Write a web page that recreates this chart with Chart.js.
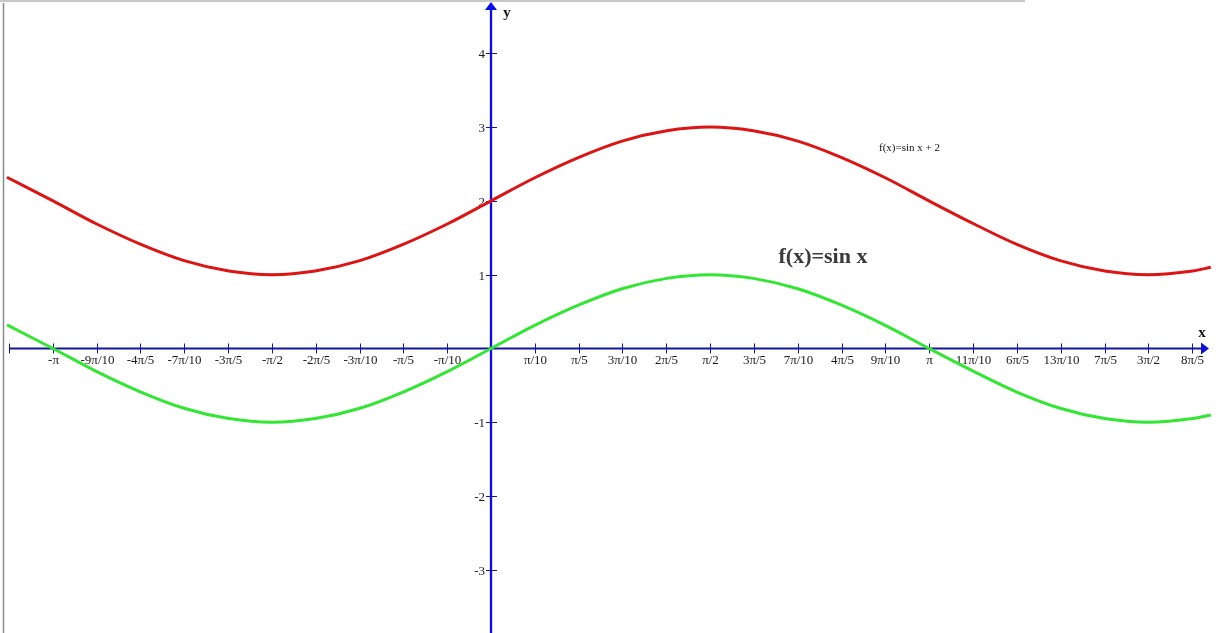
<!DOCTYPE html>
<html>
<head>
<meta charset="utf-8">
<script src="https://cdn.jsdelivr.net/npm/chart.js@4"></script>
<style>
  html, body { margin: 0; padding: 0; background: #fff; }
  #wrap { width: 1219px; height: 633px; }
</style>
</head>
<body>
<div id="wrap"><canvas id="chart1" width="1219" height="633"></canvas></div>
<script>
const xValues = [-3.47, -3.14, -2.83, -2.51, -2.20, -1.88, -1.57, -1.26, -0.94, -0.63, -0.31, 0,
  0.31, 0.63, 0.94, 1.26, 1.57, 1.88, 2.20, 2.51, 2.83, 3.14, 3.46, 3.77, 4.08, 4.40, 4.71, 5.03, 5.16];
// f(x)=sin x (green)
const sinValues = [0.32, 0, -0.31, -0.59, -0.81, -0.95, -1, -0.95, -0.81, -0.59, -0.31, 0,
  0.31, 0.59, 0.81, 0.95, 1, 0.95, 0.81, 0.59, 0.31, 0, -0.31, -0.59, -0.81, -0.95, -1, -0.95, -0.90];
// f(x)=sin x + 2 (red)
const sinPlus2Values = [2.32, 2, 1.69, 1.41, 1.19, 1.05, 1, 1.05, 1.19, 1.41, 1.69, 2,
  2.31, 2.59, 2.81, 2.95, 3, 2.95, 2.81, 2.59, 2.31, 2, 1.69, 1.41, 1.19, 1.05, 1, 1.05, 1.10];

// x ticks, in steps of pi/10
const xTickSteps = [-11, -10, -9, -8, -7, -6, -5, -4, -3, -2, -1, 1, 2, 3, 4, 5, 6, 7, 8, 9, 10, 11, 12, 13, 14, 15, 16];
const xTickLabels = ["", "-\u03c0", "-9\u03c0/10", "-4\u03c0/5", "-7\u03c0/10", "-3\u03c0/5", "-\u03c0/2", "-2\u03c0/5", "-3\u03c0/10", "-\u03c0/5", "-\u03c0/10",
  "\u03c0/10", "\u03c0/5", "3\u03c0/10", "2\u03c0/5", "\u03c0/2", "3\u03c0/5", "7\u03c0/10", "4\u03c0/5", "9\u03c0/10", "\u03c0",
  "11\u03c0/10", "6\u03c0/5", "13\u03c0/10", "7\u03c0/5", "3\u03c0/2", "8\u03c0/5"];
const yTickValues = [4, 3, 2, 1, -1, -2, -3];
const yTickLabels = ["4", "3", "2", "1", "-1", "-2", "-3"];

const toPoints = (ys) => xValues.map((x, i) => ({ x: x, y: ys[i] }));

const axesPlugin = {
  id: "mathAxes",
  beforeDatasetsDraw(chart) {
    const c = chart.ctx;
    const sx = chart.scales.x, sy = chart.scales.y;
    const ox = sx.getPixelForValue(0), oy = sy.getPixelForValue(0);
    c.save();
    // window frame
    c.strokeStyle = "#b4b4b4";
    c.lineWidth = 1.5;
    c.beginPath(); c.moveTo(0, 1); c.lineTo(1025, 1); c.stroke();
    c.strokeStyle = "#8a8a8a";
    c.lineWidth = 1.5;
    c.beginPath(); c.moveTo(3.5, 3); c.lineTo(3.5, 633); c.stroke();

    // x axis
    const xLeft = sx.getPixelForValue(-11 * Math.PI / 10);
    const xTip = 1209;
    c.strokeStyle = "#14149e";
    c.lineWidth = 2;
    c.beginPath(); c.moveTo(xLeft, oy); c.lineTo(xTip - 6, oy); c.stroke();
    c.fillStyle = "#1010d0";
    c.beginPath(); c.moveTo(xTip, oy); c.lineTo(xTip - 8, oy - 6); c.lineTo(xTip - 8, oy + 6); c.closePath(); c.fill();

    c.lineWidth = 1;
    c.font = "13px 'Liberation Serif', 'Times New Roman', serif";
    c.textAlign = "center";
    c.textBaseline = "middle";
    xTickSteps.forEach((k, i) => {
      const px = Math.round(sx.getPixelForValue(k * Math.PI / 10)) + 0.5;
      c.strokeStyle = "#14149e";
      c.beginPath(); c.moveTo(px, oy - 5); c.lineTo(px, oy + 5); c.stroke();
      c.fillStyle = "#1a1a1a";
      c.fillText(xTickLabels[i], px, oy + 12);
    });

    // y axis
    const yTip = 2;
    c.strokeStyle = "#0a0aee";
    c.lineWidth = 2.3;
    c.beginPath(); c.moveTo(ox, 633); c.lineTo(ox, yTip + 6); c.stroke();
    c.fillStyle = "#0a0aee";
    c.beginPath(); c.moveTo(ox, yTip); c.lineTo(ox - 6, yTip + 8); c.lineTo(ox + 6, yTip + 8); c.closePath(); c.fill();

    c.lineWidth = 1;
    c.textAlign = "right";
    yTickValues.forEach((v, i) => {
      const py = Math.round(sy.getPixelForValue(v)) + 0.5;
      c.strokeStyle = "#14149e";
      c.beginPath(); c.moveTo(ox - 5, py); c.lineTo(ox + 6, py); c.stroke();
      c.fillStyle = "#1a1a1a";
      c.fillText(yTickLabels[i], ox - 6, py + 1);
    });
    c.restore();
  },
  afterDatasetsDraw(chart) {
    const c = chart.ctx;
    const sx = chart.scales.x, sy = chart.scales.y;
    c.save();
    c.fillStyle = "#111";
    c.textAlign = "center";
    c.textBaseline = "middle";
    c.font = "bold 15px 'Liberation Serif', 'Times New Roman', serif";
    c.fillText("y", 507, 13);
    c.fillText("x", 1202, 333);

    c.font = "11px 'Liberation Serif', 'Times New Roman', serif";
    c.fillText("f(x)=sin x + 2", sx.getPixelForValue(3.0), sy.getPixelForValue(2.72));

    c.fillStyle = "#3a3a3a";
    c.font = "bold 22px 'Liberation Serif', 'Times New Roman', serif";
    c.fillText("f(x)=sin x", sx.getPixelForValue(2.38), sy.getPixelForValue(1.24));
    c.restore();
  }
};

const ctx1 = document.getElementById("chart1").getContext("2d");
const chart1 = new Chart(ctx1, {
  type: "scatter",
  data: {
    datasets: [
      {
        label: "f(x)=sin x + 2",
        data: toPoints(sinPlus2Values),
        showLine: true,
        borderColor: "#dd1414",
        borderWidth: 3,
        pointRadius: 0,
        cubicInterpolationMode: "monotone",
      },
      {
        label: "f(x)=sin x",
        data: toPoints(sinValues),
        showLine: true,
        borderColor: "#33e633",
        borderWidth: 3,
        pointRadius: 0,
        cubicInterpolationMode: "monotone",
      },
    ],
  },
  options: {
    responsive: false,
    animation: false,
    devicePixelRatio: 1,
    layout: { padding: 0 },
    plugins: {
      legend: { display: false },
      tooltip: { enabled: false },
    },
    scales: {
      x: { type: "linear", min: -3.52, max: 5.219, display: false },
      y: { type: "linear", min: -3.855, max: 4.722, display: false },
    },
  },
  plugins: [axesPlugin],
});
</script>
</body>
</html>
